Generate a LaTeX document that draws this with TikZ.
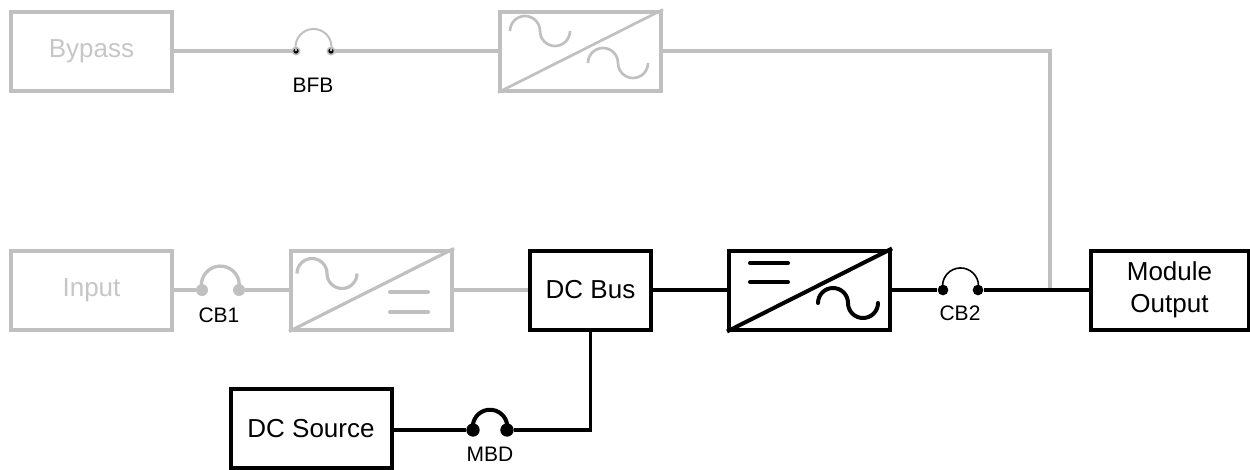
\documentclass[tikz,border=0pt]{standalone}
\usepackage{fontspec}
\setmainfont{Liberation Sans}
\definecolor{upsgray}{RGB}{192,192,192}
\definecolor{upstext}{RGB}{198,198,198}
\begin{document}
\begin{tikzpicture}[x=0.75pt,y=0.75pt]
  \tikzstyle{every node}=[font=\fontsize{19.5}{24}\selectfont]
  \tikzstyle{box}=[draw,line width=3pt,minimum width=120.75pt,minimum height=59.25pt,inner sep=0pt,align=center]
  \tikzstyle{gbox}=[box,draw=upsgray,text=upstext]
  \tikzstyle{gline}=[draw=upsgray,line width=2.6pt]
  \tikzstyle{bline}=[draw=black,line width=2.6pt]
  \tikzstyle{tag}=[font=\fontsize{15.75}{18}\selectfont]
  \tikzstyle{dot}=[circle,fill,inner sep=0pt]
  \useasboundingbox (0,0) rectangle (1250,-469);
  % boxes
  \node[gbox] (bypass) at (91.5,-51) {Bypass};
  \node[gbox] (bconv) at (580.5,-51) {};
  \node[gbox] (input) at (91.5,-290) {Input};
  \node[gbox] (rect) at (371.5,-290) {};
  \node[box,minimum width=90.75pt] (dcbus) at (590.5,-290) {DC Bus};
  \node[box] (inv) at (809.5,-290) {};
  \node[box,minimum width=118.5pt] (out) at (1169.5,-290) {Module\\Output};
  \node[box] (dcsrc) at (311,-428.5) {DC Source};
  % converter symbols
  \draw[upsgray,line width=2pt] (bconv.south west) -- (bconv.north east);
  \draw[upsgray,line width=2pt] ([shift={(12,-21.5)}]bconv.north west)
    arc[start angle=180,end angle=0,radius=15] arc[start angle=180,end angle=360,radius=15];
  \draw[upsgray,line width=2pt] ([shift={(90,-53.5)}]bconv.north west)
    arc[start angle=180,end angle=0,radius=15] arc[start angle=180,end angle=360,radius=15];
  \draw[upsgray,line width=2.4pt] (rect.south west) -- (rect.north east);
  \draw[upsgray,line width=2.4pt] ([shift={(8,-25)}]rect.north west)
    arc[start angle=180,end angle=0,radius=15] arc[start angle=180,end angle=360,radius=15];
  \draw[upsgray,line width=3pt,line cap=round] ([shift={(101,-43.5)}]rect.north west) -- +(38,0)
    ([shift={(101,-63.5)}]rect.north west) -- +(38,0);
  \draw[line width=3pt] (inv.south west) -- (inv.north east);
  \draw[line width=3pt,line cap=round] ([shift={(91,-54.5)}]inv.north west)
    arc[start angle=180,end angle=0,radius=15] arc[start angle=180,end angle=360,radius=15];
  \draw[line width=3pt,line cap=round] ([shift={(23,-14.5)}]inv.north west) -- +(38,0)
    ([shift={(23,-33.5)}]inv.north west) -- +(38,0);
  % breakers
  \node[dot,fill=black,draw=upsgray,line width=1.2pt,minimum size=5.5pt] (bfbL) at (296,-51) {};
  \node[dot,fill=black,draw=upsgray,line width=1.2pt,minimum size=5.5pt] (bfbR) at (331,-51) {};
  \node[dot,fill=upsgray,minimum size=9pt] (cb1L) at (202,-290) {};
  \node[dot,fill=upsgray,minimum size=9pt] (cb1R) at (239,-290) {};
  \node[dot,minimum size=8pt] (cb2L) at (943,-290) {};
  \node[dot,minimum size=8pt] (cb2R) at (978,-290) {};
  \node[dot,minimum size=10pt] (mbdL) at (473,-430) {};
  \node[dot,minimum size=10pt] (mbdR) at (507,-430) {};
  \draw[upsgray,line width=1.5pt] (bfbL.center) arc[start angle=193,end angle=-13,radius=18];
  \draw[upsgray,line width=2.5pt] (cb1L.center) arc[start angle=195,end angle=-15,radius=19];
  \draw[line width=1.2pt] (cb2L.center) arc[start angle=193,end angle=-13,radius=18];
  \draw[line width=3pt] (mbdL.center) arc[start angle=190,end angle=-10,radius=17.3];
  \node[tag] (bfb) at (313,-85) {BFB};
  \node[tag] (cb1) at (219,-315) {CB1};
  \node[tag] (cb2) at (960,-313.5) {CB2};
  \node[tag] (mbd) at (490,-454) {MBD};
  % connectors
  \coordinate (join) at (1050,-290);
  \draw[gline] (bypass) -- (bfbL);
  \draw[gline] (bfbR) -- (bconv);
  \draw[gline] (bconv.east) -| (join);
  \draw[gline] (input) -- (cb1L);
  \draw[gline] (cb1R) -- (rect);
  \draw[gline] (rect) -- (dcbus);
  \draw[bline] (dcbus) -- (inv);
  \draw[bline] (inv) -- (cb2L);
  \draw[bline] (cb2R) -- (out);
  \draw[bline] (dcbus) |- (mbdR);
  \draw[bline] (mbdL) -- (dcsrc.east |- mbdL);
\end{tikzpicture}
\end{document}
